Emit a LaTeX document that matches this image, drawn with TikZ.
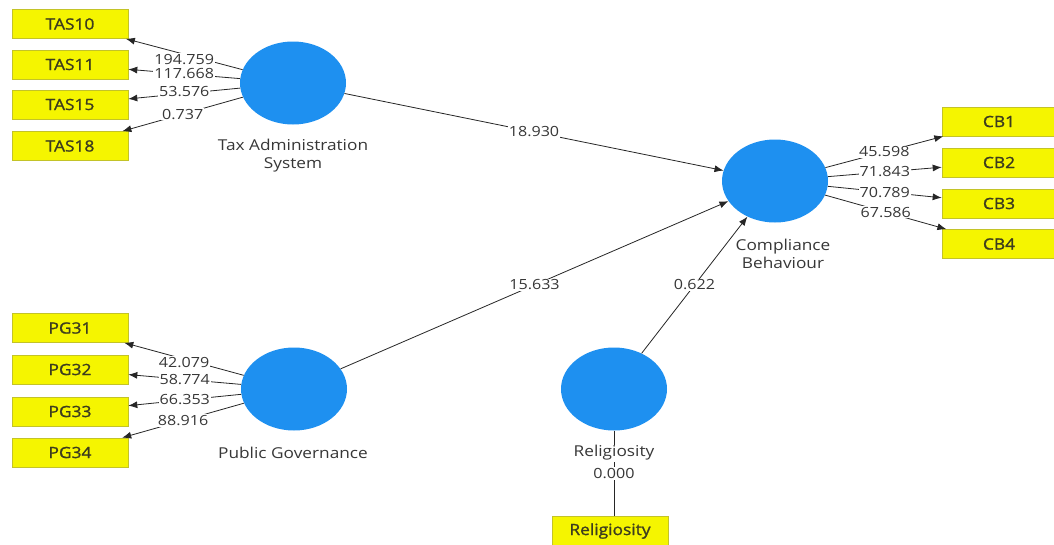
\documentclass[tikz,border=0pt]{standalone}
\usepackage{fontspec}
\setmainfont{Open Sans}[FakeStretch=1.15]
\newfontfamily\boxfont{Open Sans}[FakeStretch=1.12, FakeBold=1.3]
\usetikzlibrary{arrows.meta,shapes.geometric}
\definecolor{lvblue}{RGB}{30,144,240}
\definecolor{indyellow}{RGB}{245,245,0}
\definecolor{indedge}{RGB}{195,195,40}
\definecolor{txt}{RGB}{55,55,55}
\definecolor{boxtxt}{RGB}{60,60,30}
\begin{document}
\begin{tikzpicture}[x=1pt,y=-1pt,
  latent/.style={ellipse, fill=lvblue, minimum width=106pt, minimum height=83pt, inner sep=0pt},
  indicator/.style={rectangle, fill=indyellow, draw=indedge, line width=0.6pt,
    minimum width=116pt, minimum height=29pt, inner sep=0pt,
    font=\boxfont\fontsize{15.5}{17}\selectfont, text=boxtxt},
  caption/.style={font=\fontsize{15}{18}\selectfont, text=txt, align=center, inner sep=1pt},
  coef/.style={fill=white, inner sep=1pt, font=\fontsize{14}{16}\selectfont, text=txt},
  link/.style={draw=black!85, line width=0.8pt, -{Latex[length=9pt,width=7pt]}},
  plain/.style={draw=black!85, line width=0.8pt},
]
\useasboundingbox[fill=white] (0,0) rectangle (1054,544);

% latent variables
\node[latent] (tas) at (293,83) {};
\node[latent] (pg)  at (294,389) {};
\node[latent] (cb)  at (775,181) {};
\node[latent] (rel) at (614,389) {};

\node[caption] (tascap) at (293,156) {Tax Administration\\System};
\node[caption] (pgcap)  at (293,453) {Public Governance};
\node[caption] (cbcap)  at (783,254) {Compliance\\Behaviour};

% indicators
\node[indicator] (tas10) at (70,24)    {TAS10};
\node[indicator] (tas11) at (70,64.5)  {TAS11};
\node[indicator] (tas15) at (70,104.5) {TAS15};
\node[indicator] (tas18) at (70,146)   {TAS18};

\node[indicator] (pg31) at (70,328)   {PG31};
\node[indicator] (pg32) at (70,369.5) {PG32};
\node[indicator] (pg33) at (70,411.5) {PG33};
\node[indicator] (pg34) at (70,452.5) {PG34};

\node[indicator, minimum width=114pt] (cb1) at (999,121.5) {CB1};
\node[indicator, minimum width=114pt] (cb2) at (999,162.5) {CB2};
\node[indicator, minimum width=114pt] (cb3) at (999,203.5) {CB3};
\node[indicator, minimum width=114pt] (cb4) at (999,244)   {CB4};

\node[indicator] (relind) at (610,531) {Religiosity};

% outer loadings
\draw[link] (tas) -- node[coef, yshift=-5pt] {194.759} (tas10);
\draw[link] (tas) -- node[coef] {117.668} (tas11);
\draw[link] (tas) -- node[coef, yshift=2pt] {53.576}  (tas15);
\draw[link] (tas) -- node[coef] {0.737}   (tas18);

\draw[link] (pg) -- node[coef, yshift=-3pt] {42.079} (pg31);
\draw[link] (pg) -- node[coef] {58.774} (pg32);
\draw[link] (pg) -- node[coef] {66.353} (pg33);
\draw[link] (pg) -- node[coef] {88.916} (pg34);

\draw[link] (cb) -- node[coef] {45.598} (cb1);
\draw[link] (cb) -- node[coef] {71.843} (cb2);
\draw[link] (cb) -- node[coef] {70.789} (cb3);
\draw[link] (cb) -- node[coef] {67.586} (cb4);

\draw[plain] (rel) -- node[coef] {0.000} (rel |- relind.north);
\node[caption, fill=white] (relcap) at (614,453) {Religiosity};

% structural paths
\draw[link] (tas) -- node[coef] {18.930} (cb);
\draw[link] (pg)  -- node[coef] {15.633} (cb);
\draw[link] (rel) -- node[coef] {0.622}  (cb);
\end{tikzpicture}
\end{document}
